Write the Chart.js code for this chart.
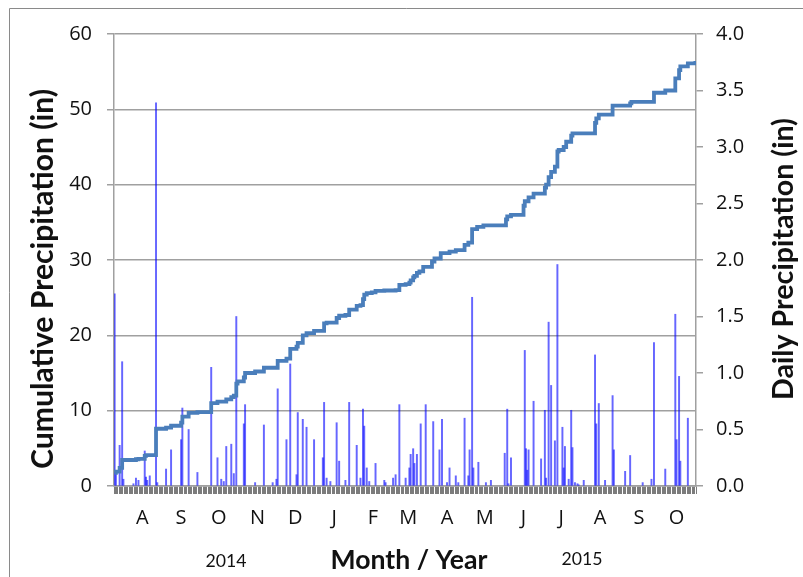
<!DOCTYPE html>
<html>
<head>
<meta charset="utf-8">
<script src="https://cdn.jsdelivr.net/npm/chart.js@4.4.1/dist/chart.umd.min.js"></script>
<style>
  html, body { margin: 0; padding: 0; background: #ffffff; }
  #wrap { width: 803px; height: 577px; position: relative; }
</style>
</head>
<body>
<div id="wrap"><canvas id="c" width="803" height="577"></canvas></div>
<script>
// Daily record, 10 Jul 2014 (day 0) to 16 Oct 2015 (day 463)
const lastDay = 463;

// Month tick labels and the day index of the 1st of each month
const monthLabels = ['A', 'S', 'O', 'N', 'D', 'J', 'F', 'M', 'A', 'M', 'J', 'J', 'A', 'S', 'O'];
const monthStartDay = [22, 53, 83, 114, 144, 175, 206, 234, 265, 295, 326, 356, 387, 418, 448];

// Daily precipitation (in), rain days only
const rainDay = [
  0, 1, 4, 6, 7, 15, 17, 19, 24, 25, 26, 28, 33, 34, 41, 45, 53, 54, 59, 66,
  77, 82, 85, 87, 89, 93, 95, 97, 103, 104, 112, 119, 126, 129, 130, 137, 140, 145, 146, 150,
  153, 159, 166, 167, 169, 172, 177, 179, 184, 187, 193, 196, 198, 199, 201, 203, 208, 215, 216, 222,
  224, 227, 232, 235, 236, 238, 239, 241, 244, 248, 254, 259, 261, 265, 267, 272, 274, 279, 282, 283,
  285, 286, 290, 296, 300, 311, 313, 314, 316, 327, 328, 329, 330, 334, 340, 343, 344, 346, 348, 351,
  353, 357, 358, 359, 362, 364, 365, 367, 369, 370, 374, 383, 384, 386, 391, 397, 398, 407, 411, 421,
  428, 430, 439, 447, 448, 450, 451, 457
];
const rainInches = [
  1.70, 0.13, 0.36, 1.10, 0.06, 0.02, 0.07, 0.05, 0.31, 0.08, 0.05, 0.09, 3.39, 0.03, 0.15, 0.32, 0.41, 0.69, 0.50, 0.12,
  1.05, 0.25, 0.06, 0.04, 0.35, 0.37, 0.11, 1.50, 0.55, 0.72, 0.03, 0.54, 0.03, 0.06, 0.86, 0.41, 1.08, 0.10, 0.65, 0.59,
  0.52, 0.41, 0.25, 0.74, 0.07, 0.04, 0.56, 0.22, 0.05, 0.74, 0.36, 0.07, 0.68, 0.53, 0.16, 0.04, 0.20, 0.05, 0.03, 0.07,
  0.10, 0.72, 0.07, 0.16, 0.28, 0.33, 0.20, 0.28, 0.55, 0.72, 0.57, 0.32, 0.59, 0.03, 0.16, 0.09, 0.03, 0.60, 0.09, 0.32,
  1.67, 0.16, 0.21, 0.03, 0.05, 0.29, 0.68, 0.02, 0.25, 1.20, 0.33, 0.14, 0.32, 0.75, 0.24, 0.67, 0.07, 1.45, 0.89, 0.40,
  1.96, 0.52, 0.16, 0.35, 0.06, 0.67, 0.34, 0.03, 0.02, 0.01, 0.05, 1.16, 0.55, 0.73, 0.05, 0.80, 0.32, 0.13, 0.27, 0.03,
  0.06, 1.27, 0.15, 1.52, 0.41, 0.97, 0.22, 0.60
];

// Cumulative precipitation (in): running total after each day it changes
const cumDay = [
  0, 1, 4, 6, 17, 19, 24, 25, 33, 41, 45, 53, 54, 59, 66, 77, 82, 89, 93, 95,
  97, 98, 103, 104, 112, 119, 130, 137, 140, 145, 146, 150, 153, 159, 167, 169, 177, 179, 184, 187,
  193, 196, 198, 199, 201, 205, 208, 215, 224, 227, 232, 235, 236, 238, 239, 241, 243, 246, 253, 255,
  260, 267, 272, 279, 282, 285, 289, 294, 312, 313, 316, 326, 327, 330, 334, 343, 344, 346, 348, 351,
  353, 354, 358, 360, 364, 365, 383, 384, 386, 397, 411, 412, 430, 439, 447, 450, 451, 457, 463
];
const cumInches = [
  1.75, 1.9, 2.4, 3.45, 3.55, 3.6, 4.0, 4.1, 7.6, 7.75, 8.0, 8.4, 9.2, 9.7, 9.8, 11.0, 11.2, 11.5, 11.8, 12.0,
  13.6, 13.9, 14.4, 15.0, 15.2, 15.7, 16.6, 16.9, 18.2, 18.5, 19.0, 20.0, 20.3, 20.6, 21.6, 21.7, 22.3, 22.6, 22.7, 23.4,
  23.9, 24.0, 24.8, 25.4, 25.6, 25.7, 25.9, 25.95, 26.0, 26.7, 26.8, 27.0, 27.3, 27.7, 27.9, 28.3, 28.5, 29.1, 29.8, 30.2,
  30.9, 31.1, 31.3, 32.0, 32.3, 34.1, 34.4, 34.6, 35.4, 35.8, 36.0, 37.2, 37.8, 38.3, 38.8, 39.6, 40.0, 41.0, 41.7, 42.4,
  44.4, 44.6, 45.0, 45.7, 46.5, 46.8, 48.2, 48.8, 49.3, 50.5, 50.8, 51.0, 52.2, 52.5, 54.1, 55.2, 55.7, 56.1, 56.4
];

// Text drawn below the month labels
const yearLabels = ['2014', '2015'];

const TITLE_FONT = 'Lato, "Open Sans", sans-serif';
const TICK_FONT = '"Open Sans", Lato, sans-serif';
const TEXT = '#111111';
const GRID = '#a0a0a0';

const dailyPoints = rainDay.map((d, i) => ({ x: d, y: rainInches[i] }));
const cumPoints = cumDay.map((d, i) => ({ x: d, y: cumInches[i] }));
const labelAt = {};
monthStartDay.forEach((d, i) => { labelAt[d] = monthLabels[i]; });

// Sets ctx.font so that text spans the given width
function fitFont(ctx, text, weight, family, width) {
  ctx.font = weight + ' 100px ' + family;
  const size = 100 * width / ctx.measureText(text).width;
  ctx.font = weight + ' ' + size.toFixed(2) + 'px ' + family;
}

// Frame, rotated axis titles and the year captions
const decorations = {
  id: 'decorations',
  afterDraw(chart) {
    const ctx = chart.ctx;
    ctx.save();
    ctx.strokeStyle = '#8a8a8a';
    ctx.lineWidth = 1;
    ctx.beginPath();
    ctx.moveTo(9.5, 577);
    ctx.lineTo(9.5, 8.5);
    ctx.lineTo(803, 8.5);
    ctx.stroke();

    ctx.fillStyle = TEXT;
    ctx.textAlign = 'center';
    ctx.textBaseline = 'middle';

    const leftTitle = 'Cumulative Precipitation (in)';
    fitFont(ctx, leftTitle, 'bold', TITLE_FONT, 380);
    ctx.save();
    ctx.translate(43, 279);
    ctx.rotate(-Math.PI / 2);
    ctx.fillText(leftTitle, 0, 0);
    ctx.restore();

    const rightTitle = 'Daily Precipitation (in)';
    fitFont(ctx, rightTitle, 'bold', TITLE_FONT, 282);
    ctx.save();
    ctx.translate(784, 259);
    ctx.rotate(-Math.PI / 2);
    ctx.fillText(rightTitle, 0, 0);
    ctx.restore();

    const xTitle = 'Month / Year';
    fitFont(ctx, xTitle, 'bold', TITLE_FONT, 157);
    ctx.fillText(xTitle, 409, 560);

    fitFont(ctx, yearLabels[0], 'normal', TITLE_FONT, 41);
    ctx.fillText(yearLabels[0], 226, 561);
    ctx.fillText(yearLabels[1], 582, 559);
    ctx.restore();
  }
};

new Chart(document.getElementById('c'), {
  data: {
    datasets: [
      {
        type: 'line',
        label: 'Cumulative Precipitation',
        data: cumPoints,
        yAxisID: 'y',
        borderColor: '#4a7ebb',
        borderWidth: 3.8,
        pointRadius: 0,
        stepped: true,
        fill: false,
        order: 0
      },
      {
        type: 'bar',
        label: 'Daily Precipitation',
        data: dailyPoints,
        yAxisID: 'y2',
        backgroundColor: 'rgba(0,0,255,0.6)',
        barThickness: 1.3,
        order: 1
      }
    ]
  },
  options: {
    responsive: false,
    animation: false,
    events: [],
    layout: { padding: { top: 34, left: 0, right: 0, bottom: 0 } },
    plugins: { legend: { display: false }, tooltip: { enabled: false }, title: { display: false } },
    scales: {
      x: {
        type: 'linear',
        position: 'bottom',
        min: 0,
        max: lastDay,
        afterFit(s) { s.height = 91; },
        ticks: {
          stepSize: 1,
          autoSkip: false,
          maxRotation: 0,
          minRotation: 0,
          padding: 12,
          color: TEXT,
          font: { family: TICK_FONT, size: 20 },
          callback: (v) => labelAt[v] || ''
        },
        grid: { drawOnChartArea: false, drawTicks: true, tickLength: 8, color: '#7c7c7c', lineWidth: 1 },
        border: { display: true, color: GRID, width: 1.5 }
      },
      y: {
        position: 'left',
        min: 0,
        max: 60,
        afterFit(s) { s.width = 114; },
        ticks: {
          stepSize: 10,
          padding: 15,
          color: TEXT,
          font: { family: TICK_FONT, size: 20 }
        },
        grid: { color: GRID, lineWidth: 1.5, tickLength: 7 },
        border: { display: true, color: GRID, width: 1.5 }
      },
      y2: {
        position: 'right',
        min: 0,
        max: 4,
        afterFit(s) { s.width = 107; },
        ticks: {
          stepSize: 0.5,
          padding: 13,
          color: TEXT,
          font: { family: TICK_FONT, size: 20 },
          callback: (v) => Number(v).toFixed(1)
        },
        grid: { drawOnChartArea: false, color: GRID, lineWidth: 1.5, tickLength: 7 },
        border: { display: true, color: GRID, width: 1.5 }
      }
    }
  },
  plugins: [decorations]
});
</script>
</body>
</html>
